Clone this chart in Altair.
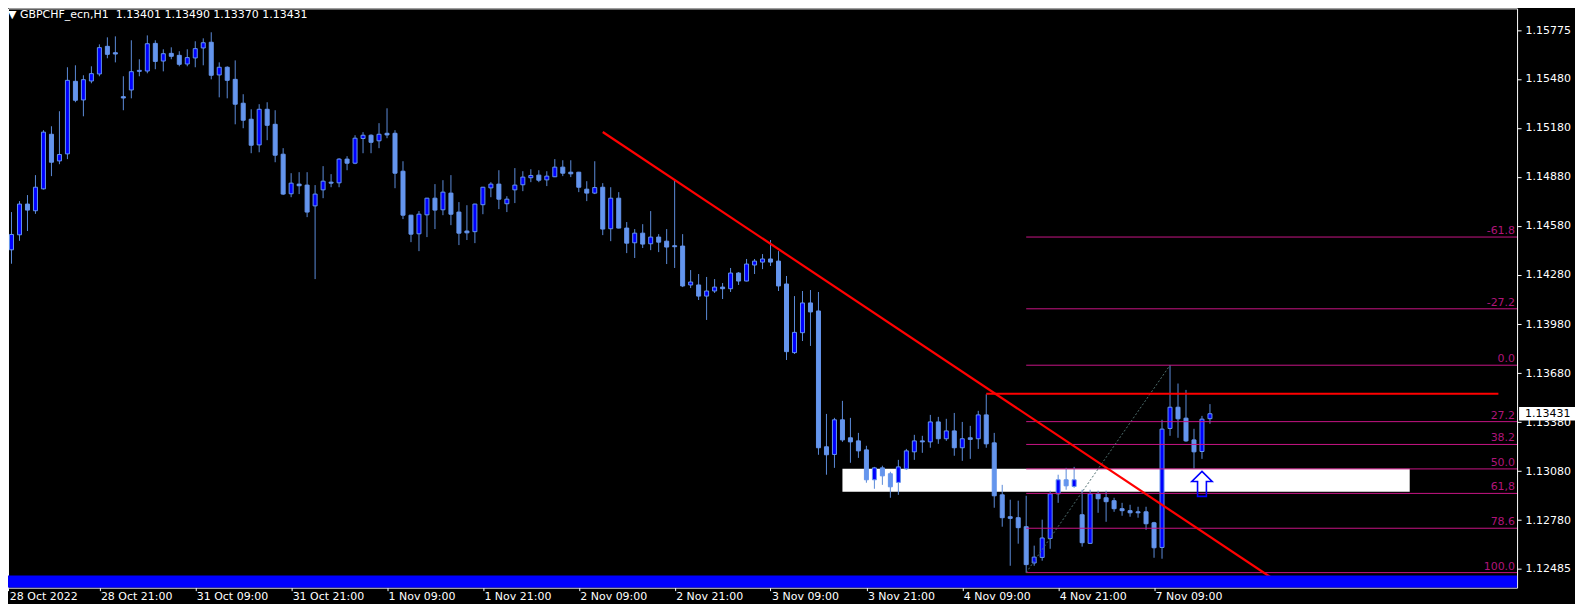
import json
import altair as alt
import pandas as pd

# ---------------- candle data (GBPCHF H1) ----------------
opens = [1.14500, 1.14434, 1.14526, 1.14714, 1.14673, 1.14807, 1.15141, 1.14978, 1.15021, 1.15465,
         1.15351, 1.15467, 1.15510, 1.15679, 1.15640, 1.15371, 1.15412, 1.15526, 1.15528, 1.15697,
         1.15589, 1.15636, 1.15624, 1.15571, 1.15608, 1.15669, 1.15704, 1.15504, 1.15551, 1.15477,
         1.15331, 1.15233, 1.15076, 1.15294, 1.15202, 1.15019, 1.14777, 1.14836, 1.14830, 1.14703,
         1.14801, 1.14848, 1.14844, 1.14989, 1.14964, 1.15115, 1.15135, 1.15101, 1.15147, 1.15147,
         1.14915, 1.14646, 1.14532, 1.14648, 1.14750, 1.14679, 1.14781, 1.14665, 1.14549, 1.14545,
         1.14710, 1.14813, 1.14836, 1.14716, 1.14801, 1.14832, 1.14875, 1.14891, 1.14862, 1.14881,
         1.14940, 1.14909, 1.14909, 1.14805, 1.14781, 1.14817, 1.14563, 1.14750, 1.14567, 1.14477,
         1.14536, 1.14471, 1.14512, 1.14487, 1.14459, 1.14457, 1.14219, 1.14219, 1.14151, 1.14182,
         1.14206, 1.14196, 1.14292, 1.14243, 1.14341, 1.14359, 1.14378, 1.14365, 1.14225, 1.13805,
         1.13927, 1.14109, 1.14060, 1.13229, 1.13182, 1.13394, 1.13284, 1.13265, 1.13210, 1.13027,
         1.13100, 1.13064, 1.13011, 1.13094, 1.13198, 1.13265, 1.13259, 1.13381, 1.13278, 1.13326,
         1.13223, 1.13284, 1.13278, 1.13424, 1.13253, 1.12935, 1.12801, 1.12795, 1.12740, 1.12518,
         1.12552, 1.12668, 1.12941, 1.13027, 1.12986, 1.12813, 1.12638, 1.12941, 1.12917, 1.12899,
         1.12850, 1.12838, 1.12831, 1.12831, 1.12764, 1.12613, 1.13341, 1.13471, 1.13404, 1.13271,
         1.13200, 1.13401]
highs = [1.14622, 1.14665, 1.14732, 1.14769, 1.14891, 1.15166, 1.15190, 1.15282, 1.15551, 1.15563,
         1.15502, 1.15557, 1.15691, 1.15734, 1.15740, 1.15496, 1.15716, 1.15600, 1.15746, 1.15716,
         1.15661, 1.15673, 1.15649, 1.15661, 1.15710, 1.15728, 1.15765, 1.15581, 1.15557, 1.15593,
         1.15386, 1.15294, 1.15325, 1.15337, 1.15288, 1.15056, 1.14903, 1.14909, 1.14909, 1.14830,
         1.14946, 1.14897, 1.14995, 1.15007, 1.15135, 1.15154, 1.15141, 1.15209, 1.15300, 1.15166,
         1.14976, 1.14648, 1.14671, 1.14752, 1.14836, 1.14860, 1.14891, 1.14726, 1.14707, 1.14716,
         1.14819, 1.14848, 1.14921, 1.14762, 1.14934, 1.14915, 1.14927, 1.14921, 1.14915, 1.14989,
         1.14982, 1.14982, 1.14911, 1.14854, 1.14976, 1.14842, 1.14817, 1.14787, 1.14604, 1.14561,
         1.14591, 1.14671, 1.14530, 1.14561, 1.14866, 1.14530, 1.14310, 1.14286, 1.14268, 1.14255,
         1.14231, 1.14323, 1.14298, 1.14378, 1.14378, 1.14408, 1.14494, 1.14426, 1.14274, 1.14151,
         1.14182, 1.14188, 1.14176, 1.13430, 1.13406, 1.13510, 1.13406, 1.13314, 1.13235, 1.13106,
         1.13113, 1.13076, 1.13149, 1.13216, 1.13302, 1.13296, 1.13424, 1.13412, 1.13400, 1.13436,
         1.13381, 1.13357, 1.13449, 1.13550, 1.13314, 1.12996, 1.12905, 1.12899, 1.12929, 1.12624,
         1.12783, 1.12960, 1.13058, 1.13100, 1.13106, 1.12966, 1.12966, 1.12960, 1.12960, 1.12917,
         1.12886, 1.12874, 1.12862, 1.12862, 1.12770, 1.13394, 1.13728, 1.13616, 1.13577, 1.13339,
         1.13418, 1.13490]
lows = [1.14386, 1.14349, 1.14489, 1.14549, 1.14654, 1.14803, 1.14885, 1.14958, 1.14989, 1.15337,
        1.15251, 1.15453, 1.15496, 1.15606, 1.15581, 1.15288, 1.15361, 1.15496, 1.15514, 1.15539,
        1.15526, 1.15600, 1.15557, 1.15557, 1.15551, 1.15563, 1.15477, 1.15367, 1.15361, 1.15202,
        1.15178, 1.15025, 1.15031, 1.15105, 1.14970, 1.14769, 1.14756, 1.14775, 1.14634, 1.14255,
        1.14750, 1.14817, 1.14817, 1.14921, 1.14958, 1.15025, 1.15025, 1.15056, 1.15117, 1.14811,
        1.14622, 1.14481, 1.14426, 1.14512, 1.14561, 1.14646, 1.14585, 1.14463, 1.14494, 1.14475,
        1.14652, 1.14756, 1.14683, 1.14665, 1.14720, 1.14793, 1.14848, 1.14848, 1.14824, 1.14879,
        1.14885, 1.14879, 1.14787, 1.14732, 1.14775, 1.14524, 1.14487, 1.14565, 1.14414, 1.14384,
        1.14445, 1.14432, 1.14420, 1.14347, 1.14323, 1.14206, 1.14200, 1.14127, 1.14005, 1.14170,
        1.14133, 1.14176, 1.14219, 1.14241, 1.14286, 1.14316, 1.14335, 1.14182, 1.13760, 1.13797,
        1.13876, 1.13846, 1.13180, 1.13058, 1.13100, 1.13259, 1.13131, 1.13161, 1.13009, 1.12972,
        1.12996, 1.12917, 1.12935, 1.13088, 1.13149, 1.13192, 1.13223, 1.13247, 1.13265, 1.13174,
        1.13143, 1.13155, 1.13216, 1.13223, 1.12856, 1.12740, 1.12501, 1.12636, 1.12459, 1.12501,
        1.12532, 1.12605, 1.12886, 1.12966, 1.12978, 1.12618, 1.12636, 1.12825, 1.12770, 1.12831,
        1.12807, 1.12801, 1.12795, 1.12721, 1.12550, 1.12544, 1.13296, 1.13284, 1.13259, 1.13094,
        1.13155, 1.13370]
closes = [1.14432, 1.14528, 1.14714, 1.14677, 1.14817, 1.15154, 1.14970, 1.15017, 1.15471, 1.15349,
          1.15475, 1.15512, 1.15671, 1.15630, 1.15632, 1.15363, 1.15524, 1.15532, 1.15695, 1.15587,
          1.15634, 1.15618, 1.15569, 1.15610, 1.15665, 1.15701, 1.15502, 1.15551, 1.15471, 1.15325,
          1.15227, 1.15074, 1.15294, 1.15196, 1.15013, 1.14775, 1.14842, 1.14826, 1.14665, 1.14775,
          1.14854, 1.14842, 1.14989, 1.14964, 1.15117, 1.15135, 1.15092, 1.15141, 1.15137, 1.14903,
          1.14646, 1.14530, 1.14652, 1.14750, 1.14677, 1.14787, 1.14652, 1.14536, 1.14538, 1.14714,
          1.14817, 1.14836, 1.14744, 1.14744, 1.14830, 1.14879, 1.14889, 1.14860, 1.14885, 1.14940,
          1.14903, 1.14899, 1.14817, 1.14781, 1.14815, 1.14561, 1.14750, 1.14567, 1.14475, 1.14536,
          1.14469, 1.14512, 1.14481, 1.14451, 1.14453, 1.14213, 1.14237, 1.14151, 1.14182, 1.14206,
          1.14196, 1.14292, 1.14243, 1.14347, 1.14365, 1.14378, 1.14359, 1.14213, 1.13811, 1.13929,
          1.14109, 1.14054, 1.13223, 1.13180, 1.13394, 1.13271, 1.13259, 1.13204, 1.13027, 1.13100,
          1.13051, 1.12984, 1.13106, 1.13204, 1.13265, 1.13259, 1.13381, 1.13278, 1.13326, 1.13223,
          1.13278, 1.13274, 1.13424, 1.13247, 1.12929, 1.12795, 1.12791, 1.12734, 1.12508, 1.12554,
          1.12671, 1.12941, 1.13027, 1.12990, 1.13027, 1.12642, 1.12941, 1.12911, 1.12893, 1.12850,
          1.12838, 1.12825, 1.12825, 1.12758, 1.12611, 1.13337, 1.13471, 1.13400, 1.13265, 1.13198,
          1.13398, 1.13431]

# ---------------- axes ----------------
tick_index = [0.6, 12, 24, 36, 48, 60, 72, 84, 96, 108, 120, 132, 144]
tick_labels = ["28 Oct 2022", "28 Oct 21:00", "31 Oct 09:00", "31 Oct 21:00", "1 Nov 09:00",
               "1 Nov 21:00", "2 Nov 09:00", "2 Nov 21:00", "3 Nov 09:00", "3 Nov 21:00",
               "4 Nov 09:00", "4 Nov 21:00", "7 Nov 09:00"]
price_ticks = [1.12485, 1.12780, 1.13080, 1.13380, 1.13680, 1.13980,
               1.14280, 1.14580, 1.14880, 1.15180, 1.15480, 1.15775]

# ---------------- objects ----------------
fib_levels = [-61.8, -27.2, 0.0, 27.2, 38.2, 50.0, 61.8, 78.6, 100.0]
fib_texts = ["-61.8", "-27.2", "0.0", "27.2", "38.2", "50.0", "61,8", "78.6", "100.0"]
fib_anchor_index = [128, 146]
fib_anchor_price = [1.12459, 1.13728]
trend_index = [75.0, 159.05]
trend_price = [1.15155, 1.12416]
resist_index = [123, 187.1]
resist_price = [1.13554]
zone_index = [105, 176]
zone_price = [1.12954, 1.13094]
band_price = [1.12442]
arrow_index = [150]
arrow_price = [1.12999]

symbol = "GBPCHF_ecn,H1"

# ---------------- scales ----------------
X_DOM = [0.5625, 189.4375]
Y_DOM = [1.1236712, 1.1591127]
xscale = alt.Scale(domain=X_DOM, nice=False, zero=False)
yscale = alt.Scale(domain=Y_DOM, nice=False, zero=False)

FONT = "DejaVu Sans"
label_expr = json.dumps(tick_labels) + "[round(datum.value / 12)]"
xaxis = alt.Axis(values=tick_index, labelExpr=label_expr, orient="bottom", domain=False,
                 grid=False, ticks=True, tickColor="white", tickSize=3, labelColor="white",
                 labelFont=FONT, labelFontSize=11, labelAlign="left", labelBaseline="top",
                 labelPadding=0, labelOverlap=False, labelFlush=False, labelOffset=1, title=None)
yaxis = alt.Axis(values=price_ticks, format=".5f", orient="right", domain=False, grid=False,
                 ticks=True, tickColor="white", tickSize=4, labelColor="white", labelFont=FONT,
                 labelFontSize=11, labelPadding=4, labelOverlap=False, labelFlush=False,
                 title=None)


def X(f):
    return alt.X(f, type="quantitative", scale=xscale, axis=xaxis)


def Y(f):
    return alt.Y(f, type="quantitative", scale=yscale, axis=yaxis)


candles = pd.DataFrame({"i": list(range(len(opens))), "open": opens, "high": highs,
                        "low": lows, "close": closes})
candles["bull"] = candles["close"] > candles["open"]

fib_high = fib_anchor_price[1]
fib_low = fib_anchor_price[0]
fib = pd.DataFrame({"level": fib_levels, "txt": fib_texts})
fib["price"] = fib_high - fib["level"] / 100.0 * (fib_high - fib_low)
fib["x0"] = fib_anchor_index[0]
fib["x1"] = X_DOM[1]

zone = pd.DataFrame({"x0": [zone_index[0]], "x1": [zone_index[1]],
                     "p0": [zone_price[0]], "p1": [zone_price[1]]})
band = pd.DataFrame({"x0": [-5], "x1": [260], "p0": [Y_DOM[0]], "p1": band_price})
trend = pd.DataFrame({"i": trend_index, "p": trend_price})
anchor = pd.DataFrame({"i": fib_anchor_index, "p": fib_anchor_price})
resist = pd.DataFrame({"x0": [resist_index[0]], "x1": [resist_index[1]], "p": resist_price})
arrow = pd.DataFrame({"i": arrow_index, "p": arrow_price})
last = pd.DataFrame({"close": [closes[-1]]})

BODY = "#6495ED"
WICK = "#5B8BD8"
FIBC = "#C71585"

zone_layer = alt.Chart(zone).mark_rect(color="white", clip=True).encode(
    x=X("x0"), x2="x1", y=Y("p0"), y2="p1")

wicks = alt.Chart(candles).mark_rule(color=WICK, strokeWidth=1, clip=True).encode(
    x=X("i"), y=Y("low"), y2="high")

bodies = alt.Chart(candles).transform_calculate(
    l="datum.i - 0.25", r="datum.i + 0.25"
).mark_rect(stroke=BODY, strokeWidth=1, clip=True).encode(
    x=X("l:Q"), x2="r:Q", y=Y("open"), y2="close",
    fill=alt.condition("datum.bull", alt.value("#0000FF"), alt.value(BODY)))

fib_lines = alt.Chart(fib).mark_rule(color=FIBC, strokeWidth=1, clip=True).encode(
    x=X("x0"), x2="x1", y=Y("price"))

fib_labels = alt.Chart(fib).mark_text(color="#B0157A", font=FONT, fontSize=11, align="right",
                                      baseline="bottom", dx=-2, dy=-1).encode(
    x=X("x1"), y=Y("price"), text="txt:N")

anchor_line = alt.Chart(anchor).mark_line(color="#4E6E6E", strokeWidth=1, strokeDash=[2, 2],
                                          clip=True).encode(x=X("i"), y=Y("p"))

trend_line = alt.Chart(trend).mark_line(color="#FF0000", strokeWidth=2.2, clip=True).encode(
    x=X("i"), y=Y("p"))

resist_line = alt.Chart(resist).mark_rule(color="#FF0000", strokeWidth=2, clip=True).encode(
    x=X("x0"), x2="x1", y=Y("p"))

arrow_path = "M0,-1 L0.78,-0.22 L0.34,-0.22 L0.34,0.92 L-0.34,0.92 L-0.34,-0.22 L-0.78,-0.22 Z"
arrow_layer = alt.Chart(arrow).mark_point(shape=arrow_path, size=680, filled=False,
                                          color="#0000FF", strokeWidth=1.6, opacity=1).encode(
    x=X("i"), y=Y("p"))

band_layer = alt.Chart(band).mark_rect(color="#0000FF", clip=True).encode(
    x=X("x0"), x2="x1", y=Y("p0"), y2="p1")

price_box = alt.Chart(last).transform_calculate(
    top="datum.close + 0.00041", bot="datum.close - 0.00041"
).mark_rect(color="white").encode(
    x=alt.value(1513), x2=alt.value(1569), y=Y("top:Q"), y2="bot:Q")

price_txt = alt.Chart(last).mark_text(color="black", font=FONT, fontSize=11, align="left",
                                      baseline="middle").encode(
    x=alt.value(1519), y=Y("close"), text=alt.Text("close:Q", format=".5f"))

header = "\u25BC " + symbol + "\u00a0\u00a0" + " ".join(
    f"{v:.5f}" for v in [opens[-1], highs[-1], lows[-1], closes[-1]])

chart = alt.layer(
    zone_layer, wicks, bodies, fib_lines, fib_labels, anchor_line, trend_line,
    resist_line, arrow_layer, band_layer, price_box, price_txt
).properties(
    width=1511, height=580,
    padding={"left": 0, "top": 0, "right": 58, "bottom": 16},
    autosize=alt.AutoSizeParams(type="none"),
    background="black",
    title=alt.TitleParams(text=header, anchor="start", orient="top", offset=-12, color="white",
                          font=FONT, fontSize=11, fontWeight="normal", frame="group"),
).configure_view(stroke="white", strokeWidth=1)

chart.save("out.html", embed_options={"renderer": "svg", "actions": False})
